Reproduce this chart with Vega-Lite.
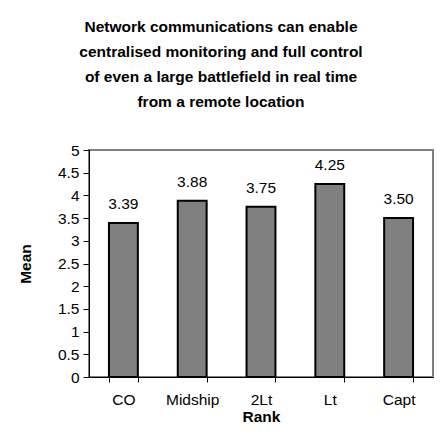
{
  "$schema": "https://vega.github.io/schema/vega-lite/v6.json",
  "width": 344,
  "height": 227,
  "autosize": {"type": "none"},
  "padding": {"left": 89, "top": 150, "right": 12, "bottom": 58},
  "background": "white",
  "title": {
    "text": ["Network communications can enable", "centralised monitoring and full control", "of even a large battlefield in real time", "from a remote location"],
    "font": "Liberation Sans",
    "fontSize": 15.5,
    "fontWeight": "bold",
    "color": "black",
    "lineHeight": 25,
    "anchor": "middle",
    "frame": "group",
    "dx": -40,
    "offset": 33
  },
  "config": {
    "font": "Liberation Sans",
    "view": {"stroke": "#808080", "strokeWidth": 2}
  },
  "data": {
    "values": [
      {"Rank": "CO", "Mean": 3.39},
      {"Rank": "Midship", "Mean": 3.88},
      {"Rank": "2Lt", "Mean": 3.75},
      {"Rank": "Lt", "Mean": 4.25},
      {"Rank": "Capt", "Mean": 3.50}
    ]
  },
  "encoding": {
    "x": {
      "field": "Rank",
      "type": "nominal",
      "sort": null,
      "scale": {"paddingInner": 0.58, "paddingOuter": 0.29},
      "axis": {
        "labelAngle": 0,
        "labelFontSize": 15.5,
        "labelColor": "black",
        "labelPadding": 10,
        "tickBand": "extent",
        "tickSize": 5,
        "tickColor": "black",
        "domainColor": "black",
        "title": "Rank",
        "titleFontSize": 15.5,
        "titleFontWeight": "bold",
        "titleColor": "black",
        "titlePadding": 2
      }
    },
    "y": {
      "field": "Mean",
      "type": "quantitative",
      "scale": {"domain": [0, 5], "nice": false},
      "axis": {
        "values": [0, 0.5, 1, 1.5, 2, 2.5, 3, 3.5, 4, 4.5, 5],
        "format": "~g",
        "grid": false,
        "labelFontSize": 15.5,
        "labelColor": "black",
        "labelPadding": 4,
        "tickSize": 6,
        "tickColor": "black",
        "domainColor": "black",
        "title": "Mean",
        "titleFontSize": 15.5,
        "titleFontWeight": "bold",
        "titleColor": "black",
        "titlePadding": 24
      }
    }
  },
  "layer": [
    {
      "mark": {"type": "bar", "fill": "#808080", "stroke": "black", "strokeWidth": 2}
    },
    {
      "mark": {"type": "text", "baseline": "bottom", "dy": -11, "fontSize": 15.5, "color": "black"},
      "encoding": {
        "text": {"field": "Mean", "type": "quantitative", "format": ".2f"}
      }
    }
  ]
}
